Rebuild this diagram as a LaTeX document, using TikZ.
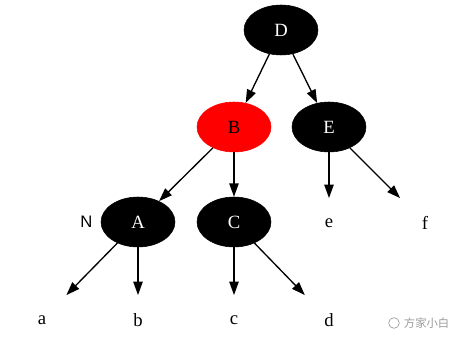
\documentclass[tikz,border=0pt]{standalone}
\usepackage{fontspec}
\setmainfont{Liberation Serif}
\newfontfamily\tagsans{Liberation Sans}
\newfontfamily\cjkfont{Noto Sans CJK SC}
\usepackage{tikz}
\usetikzlibrary{arrows.meta,positioning,shapes.geometric}
\definecolor{RBRed}{HTML}{FF0000}
\definecolor{RBMark}{HTML}{9A9A9A}

\begin{document}
\begin{tikzpicture}[
    x=0.75pt,y=-0.75pt,
    rbnode/.style={ellipse,draw=black,fill=black,text=white,inner sep=0pt,
      minimum width=55.5pt,minimum height=37.5pt,font=\fontsize{14}{16}\selectfont},
    rednode/.style={rbnode,draw=RBRed,fill=RBRed,text=black},
    leaf/.style={rectangle,inner sep=0pt,minimum width=40pt,minimum height=37pt,
      font=\fontsize{14}{16}\selectfont},
    arrow/.style={-{Triangle[length=10pt,width=7pt]},line width=1pt,draw=black}
  ]
    \useasboundingbox (0,0) rectangle (469,349);
    % internal nodes
    \node[rbnode] (D) at (281,30) {D};
    \node[rednode] (B) at (234,127) {B};
    \node[rbnode] (E) at (329,127) {E};
    \node[rbnode] (A) at (138,222) {A};
    \node[rbnode] (C) at (234,222) {C};
    \node[left=6pt of A,inner sep=0pt,font=\tagsans\fontsize{12.5}{14}\selectfont] (tagN) {N};
    % leaves
    \node[leaf] (a) at (42,320) {a};
    \node[leaf] (b) at (138,320) {b};
    \node[leaf] (c) at (234,320) {c};
    \node[leaf] (d) at (329,320) {d};
    \node[leaf] (e) at (329,223) {e};
    \node[leaf] (f) at (425,223) {f};
    % edges
    \draw[arrow] (D) -- (B);
    \draw[arrow] (D) -- (E);
    \draw[arrow] (B) -- (A);
    \draw[arrow] (B) -- (C);
    \draw[arrow] (E) -- (e);
    \draw[arrow] (E) -- (f);
    \draw[arrow] (A) -- (a);
    \draw[arrow] (A) -- (b);
    \draw[arrow] (C) -- (c);
    \draw[arrow] (C) -- (d);
    % watermark
    \node[circle,draw=RBMark,line width=0.5pt,minimum size=8pt,inner sep=0pt] (logo) at (394,323) {};
    \node[right=3pt of logo,inner sep=0pt,text=RBMark,font=\cjkfont\fontsize{8.5}{10}\selectfont] (mark) {方家小白};
  \end{tikzpicture}
\end{document}
